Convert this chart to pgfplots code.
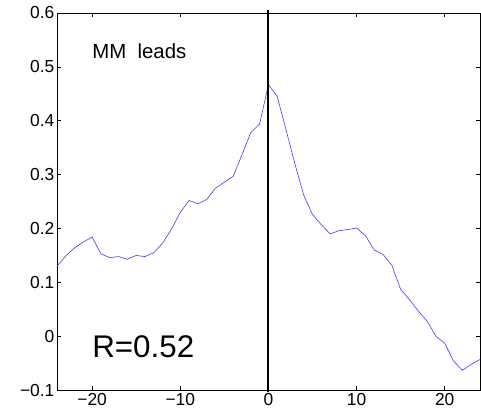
\documentclass[border=0pt]{standalone}
\usepackage{pgfplots}
\pgfplotsset{compat=1.18}
\usepackage{fontspec}
\setmainfont{Liberation Sans}
\definecolor{lineblue}{RGB}{60,60,255}

\begin{document}
\begin{tikzpicture}
\begin{axis}[
    scale only axis,
    width=424bp, height=378bp,
    xmin=-24, xmax=24,
    ymin=-0.1, ymax=0.6,
    xtick={-20,-10,0,10,20},
    xticklabels={−20,−10,0,10,20},
    ytick={-0.1,0,0.1,0.2,0.3,0.4,0.5,0.6},
    yticklabels={−0.1,0,0.1,0.2,0.3,0.4,0.5,0.6},
    tick align=inside,
    major tick length=4bp,
    xtick pos=both, ytick pos=both,
    xticklabel pos=lower, yticklabel pos=left,
    ticklabel style={font=\fontsize{17.5}{17.5}\selectfont, black},
    yticklabel style={xshift=1bp},
    axis line style={black, line width=0.6pt},
    tick style={black, line width=0.6pt},
    clip=false,
]
\addplot [lineblue, line width=0.6pt] coordinates {
(-24,0.130) (-23,0.149) (-22,0.164) (-21,0.175) (-20,0.184)
(-19,0.153) (-18,0.146) (-17,0.148) (-16,0.143) (-15,0.150)
(-14,0.148) (-13,0.155) (-12,0.173) (-11,0.199) (-10,0.230)
(-9,0.252) (-8,0.246) (-7,0.254) (-6,0.275) (-5,0.286)
(-4,0.297) (-3,0.337) (-2,0.378) (-1,0.394) (0,0.467)
(1,0.445) (2,0.383) (3,0.320) (4,0.262) (5,0.226)
(6,0.207) (7,0.190) (8,0.196) (9,0.198) (10,0.201)
(11,0.187) (12,0.160) (13,0.152) (14,0.132) (15,0.087)
(16,0.068) (17,0.047) (18,0.028) (19,0.000) (20,-0.013)
(21,-0.046) (22,-0.063) (23,-0.052) (24,-0.043)
};
\addplot [black, line width=2pt] coordinates {(0,-0.104) (0,0.6055)};
\node [anchor=base west, font=\fontsize{20.5}{20.5}\selectfont, inner sep=0pt]
    at (axis cs:-20,0.515) {MM\ \ leads};
\node [anchor=base west, font=\fontsize{31.5}{31.5}\selectfont, inner sep=0pt]
    at (axis cs:-20,-0.0394) {R=0.52};
\end{axis}
\pgfresetboundingbox
\path ([shift={(-57bp,-27bp)}]current axis.south west)
    rectangle ([shift={(1bp,13bp)}]current axis.north east);
\end{tikzpicture}
\end{document}
